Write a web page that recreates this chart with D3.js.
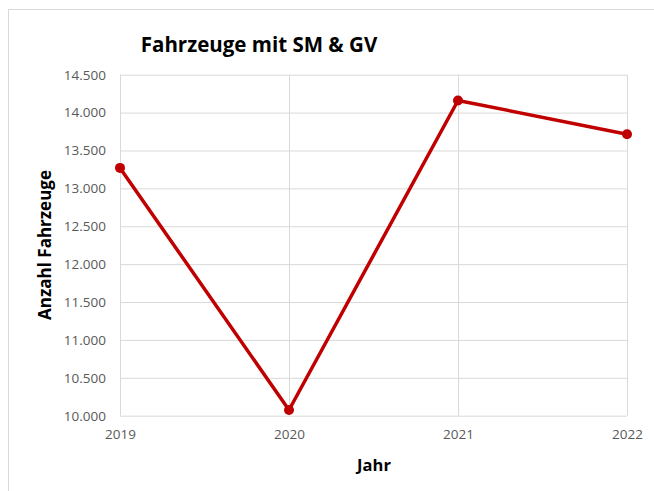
<!DOCTYPE html>
<html>
<head>
<meta charset="utf-8">
<script src="https://cdn.jsdelivr.net/npm/d3@7"></script>
<style>
  html, body { margin: 0; padding: 0; background: #fff; }
  svg { display: block; }
</style>
</head>
<body>
<script>
const years = [2019, 2020, 2021, 2022];
const values = [13270, 10075, 14160, 13715];
const yTicks = [10000, 10500, 11000, 11500, 12000, 12500, 13000, 13500, 14000, 14500];
const title = "Fahrzeuge mit SM & GV";
const xTitle = "Jahr";
const yTitle = "Anzahl Fahrzeuge";

const W = 654, H = 491;
const font = "Open Sans, Liberation Sans, sans-serif";
const svg = d3.select("body").append("svg").attr("width", W).attr("height", H);

// chart frame
svg.append("rect").attr("x", 8.5).attr("y", 9.5).attr("width", 720).attr("height", 600)
  .attr("fill", "#fff").attr("stroke", "#d9d9d9").attr("stroke-width", 1);

const x = d3.scalePoint().domain(years).range([120, 627]);
const y = d3.scaleLinear().domain([10000, 14500]).range([415.7, 74.7]);

// gridlines horizontal
const yAxis = d3.axisLeft(y).tickValues(yTicks)
  .tickFormat(d => d3.format(",")(d).replace(/,/g, "."))
  .tickSize(-(627 - 120)).tickPadding(14);
const gy = svg.append("g").attr("transform", "translate(120,0)").call(yAxis);
gy.select(".domain").remove();
gy.selectAll(".tick line").attr("stroke", "#d9d9d9").attr("stroke-width", 1);
gy.selectAll(".tick text").attr("fill", "#595959").attr("font-family", font).attr("font-size", 13.5);

// vertical gridlines / x axis
const xAxis = d3.axisBottom(x).tickSize(-(415.7 - 74.7)).tickPadding(14);
const gx = svg.append("g").attr("transform", "translate(0,415.7)").call(xAxis);
gx.select(".domain").remove();
gx.selectAll(".tick line").attr("stroke", "#d9d9d9").attr("stroke-width", 1);
gx.selectAll(".tick text").attr("fill", "#595959").attr("font-family", font).attr("font-size", 13.5);

// line
const data = years.map((yr, i) => ({ yr, v: values[i] }));
svg.append("path").datum(data)
  .attr("fill", "none").attr("stroke", "#c00000").attr("stroke-width", 3.5)
  .attr("stroke-linejoin", "round")
  .attr("d", d3.line().x(d => x(d.yr)).y(d => y(d.v)));
svg.selectAll("circle.pt").data(data).enter().append("circle")
  .attr("class", "pt").attr("cx", d => x(d.yr)).attr("cy", d => y(d.v)).attr("r", 5)
  .attr("fill", "#c00000");

// titles
svg.append("text").attr("x", 259).attr("y", 52).attr("text-anchor", "middle")
  .attr("font-family", font).attr("font-weight", "bold").attr("font-size", 20.5)
  .attr("fill", "#000").text(title);
svg.append("text").attr("x", 374).attr("y", 471).attr("text-anchor", "middle")
  .attr("font-family", font).attr("font-weight", "bold").attr("font-size", 16.5)
  .attr("fill", "#000").text(xTitle);
svg.append("text").attr("transform", "translate(51,245) rotate(-90)").attr("text-anchor", "middle")
  .attr("font-family", font).attr("font-weight", "bold").attr("font-size", 17)
  .attr("fill", "#000").text(yTitle);
</script>
</body>
</html>
